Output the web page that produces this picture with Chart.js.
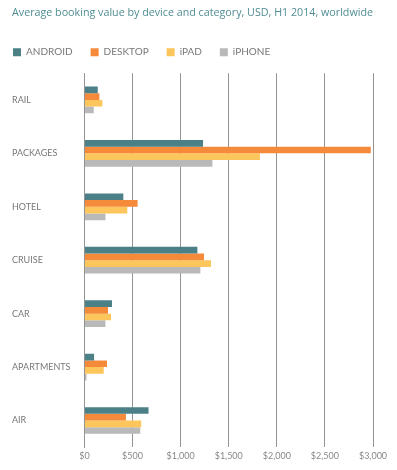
<!DOCTYPE html>
<html>
<head>
<meta charset="utf-8">
<script src="https://cdn.jsdelivr.net/npm/chart.js@4"></script>
<style>
  html, body { margin: 0; padding: 0; background: #fff; }
  #wrap { width: 397px; height: 470px; }
</style>
</head>
<body>
<div id="wrap"><canvas id="graphique"></canvas></div>
<script>
const categories = ["RAIL", "PACKAGES", "HOTEL", "CRUISE", "CAR", "APARTMENTS", "AIR"];
const android = [138, 1233, 404, 1174, 286, 100, 666];
const desktop = [155, 2977, 552, 1243, 245, 234, 431];
const ipad = [186, 1824, 445, 1316, 276, 200, 590];
const iphone = [96, 1330, 218, 1205, 218, 21, 580];
const tickValues = [0, 500, 1000, 1500, 2000, 2500, 3000];

const ctx = document.getElementById("graphique");

// legend: pull it back to the left edge and leave more room under it
const legendTweak = {
  id: "legendTweak",
  beforeInit(chart) {
    const fit = chart.legend.fit;
    chart.legend.fit = function () {
      fit.call(this);
      this.height += 6;
    };
  },
  afterLayout(chart) {
    chart.legend.left -= 17;
  }
};

new Chart(ctx, {
  type: "bar",
  data: {
    labels: categories,
    datasets: [
      { label: "ANDROID", data: android, backgroundColor: "#4b8087" },
      { label: "DESKTOP", data: desktop, backgroundColor: "#f48a3a" },
      { label: "iPAD", data: ipad, backgroundColor: "#fdc65c" },
      { label: "iPHONE", data: iphone, backgroundColor: "#b9b9b9" }
    ]
  },
  options: {
    indexAxis: "y",
    responsive: true,
    maintainAspectRatio: false,
    animation: false,
    layout: { padding: { left: 12, right: 24, top: 4, bottom: 6 } },
    datasets: {
      bar: { categoryPercentage: 0.5, barPercentage: 1.0 }
    },
    plugins: {
      title: {
        display: true,
        text: "Average booking value by device and category, USD, H1 2014, worldwide",
        align: "start",
        color: "#4f8d93",
        font: { family: "Open Sans", size: 11, weight: "normal" },
        padding: { top: 2, bottom: 10 }
      },
      legend: {
        position: "top",
        align: "start",
        labels: {
          boxWidth: 8,
          boxHeight: 8,
          padding: 18,
          color: "#777",
          font: { family: "Lato", size: 10 }
        }
      },
      tooltip: { enabled: false }
    },
    scales: {
      x: {
        min: 0,
        max: 3000,
        afterBuildTicks: (scale) => {
          scale.ticks = tickValues.map(v => ({ value: v }));
        },
        ticks: {
          color: "#888",
          font: { family: "Lato", size: 9 },
          callback: (v) => "$" + v.toLocaleString("en-US")
        },
        grid: { color: "#949494", drawTicks: false },
        border: { display: false }
      },
      y: {
        grid: { display: false },
        border: { color: "#949494" },
        ticks: {
          crossAlign: "far",
          padding: 3,
          color: "#777",
          font: { family: "Lato", size: 9 }
        }
      }
    }
  },
  plugins: [legendTweak]
});
</script>
</body>
</html>
